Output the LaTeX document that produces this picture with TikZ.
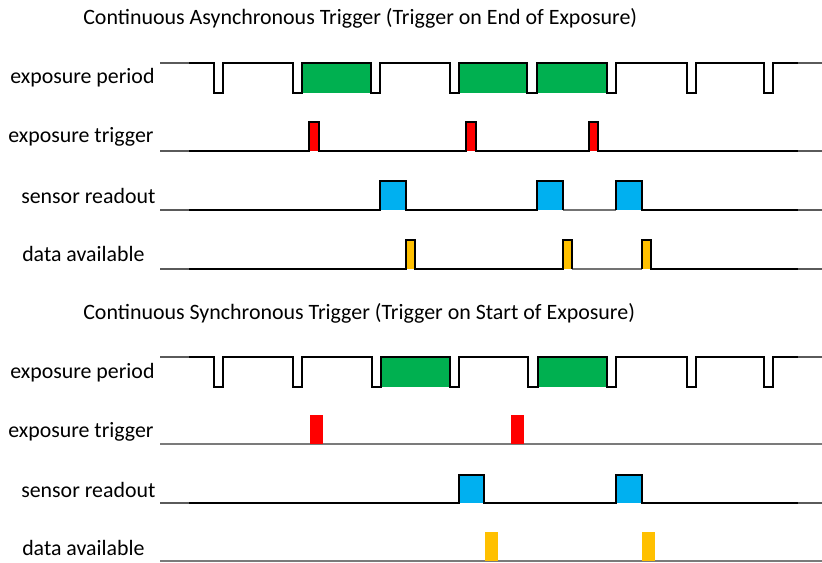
\documentclass[tikz,border=0pt]{standalone}
\usepackage{fontspec}
\setmainfont{Carlito}
\definecolor{expgreen}{RGB}{0,176,80}
\definecolor{trigred}{RGB}{255,0,0}
\definecolor{readblue}{RGB}{0,176,240}
\definecolor{datayellow}{RGB}{255,192,0}
\definecolor{stubgray}{RGB}{90,90,90}
\tikzset{
  wave/.style={line width=1.5pt, black, line join=miter},
  greywave/.style={line width=1.5pt, black!55},
  stub/.style={line width=1.5pt, stubgray},
  thinbase/.style={line width=0.9pt, stubgray!80},
  lbl/.style={anchor=west, inner sep=0pt, font=\fontsize{16.4}{18}\selectfont},
  ttl/.style={anchor=west, inner sep=0pt, font=\fontsize{16.45}{18}\selectfont},
}
\begin{document}
\begin{tikzpicture}[x=0.75pt,y=-0.75pt]
\useasboundingbox (0,0) rectangle (822,562);
% ---------- titles ----------
\node[ttl] (t1) at (83,18) {Continuous Asynchronous Trigger (Trigger on End of Exposure)};
\node[ttl] (t2) at (83,313) {Continuous Synchronous Trigger (Trigger on Start of Exposure)};
% ---------- labels ----------
\node[lbl] (l1) at (10,78) {exposure period};
\node[lbl] (l2) at (8,137) {exposure trigger};
\node[lbl] (l3) at (21,196) {sensor readout};
\node[lbl] (l4) at (22,254) {data available};
\node[lbl] (l5) at (10,373) {exposure period};
\node[lbl] (l6) at (8,432) {exposure trigger};
\node[lbl] (l7) at (21,490) {sensor readout};
\node[lbl] (l8) at (22,548) {data available};
% ================= top section =================
% exposure period
\foreach \a/\b in {302/371,459/527,537/607} \fill[expgreen] (\a,63) rectangle (\b,93);
\draw[stub] (160,63) -- (189,63);
\draw[stub] (798,63) -- (822,63);
\draw[wave] (189,63)
  \foreach \d/\e in {214/223,293/302,371/380,450/459,527/537,607/616,687/696,764/773}
    { -- (\d,63) -- (\d,93) -- (\e,93) -- (\e,63) } -- (798,63);
% exposure trigger
\foreach \a/\b in {309/319,466/476,589/598} \fill[trigred] (\a,122) rectangle (\b,151);
\draw[stub] (160,151) -- (189,151);
\draw[stub] (798,151) -- (822,151);
\draw[wave] (189,151)
  \foreach \a/\b in {309/319,466/476,589/598}
    { -- (\a,151) -- (\a,122) -- (\b,122) -- (\b,151) } -- (798,151);
% sensor readout
\foreach \a/\b in {380/406,537/563,616/642} \fill[readblue] (\a,181) rectangle (\b,210);
\draw[stub] (160,210) -- (189,210);
\draw[stub] (798,210) -- (822,210);
\draw[greywave] (563,210) -- (616,210);
\draw[wave] (189,210)
  \foreach \a/\b in {380/406,537/563}
    { -- (\a,210) -- (\a,181) -- (\b,181) -- (\b,210) };
\draw[wave] (616,210) -- (616,181) -- (642,181) -- (642,210) -- (798,210);
% data available
\foreach \a/\b in {406/415,563/572,642/651} \fill[datayellow] (\a,240) rectangle (\b,269);
\draw[stub] (160,269) -- (189,269);
\draw[stub] (798,269) -- (822,269);
\draw[greywave] (572,269) -- (642,269);
\draw[wave] (189,269)
  \foreach \a/\b in {406/415,563/572}
    { -- (\a,269) -- (\a,240) -- (\b,240) -- (\b,269) };
\draw[wave] (642,269) -- (642,240) -- (651,240) -- (651,269) -- (798,269);
% ================= bottom section =================
% exposure period
\foreach \a/\b in {381/450,538/607} \fill[expgreen] (\a,357) rectangle (\b,387);
\draw[stub] (160,357) -- (189,357);
\draw[stub] (798,357) -- (822,357);
\draw[wave] (189,357)
  \foreach \d/\e in {214/223,293/302,372/381,450/459,528/538,607/616,687/696,764/773}
    { -- (\d,357) -- (\d,387) -- (\e,387) -- (\e,357) } -- (798,357);
% exposure trigger
\draw[thinbase] (160,444) -- (822,444);
\foreach \a/\b in {310/323,511/524} \fill[trigred] (\a,415) rectangle (\b,444);
% sensor readout
\foreach \a/\b in {459/484,616/642} \fill[readblue] (\a,475) rectangle (\b,503);
\draw[stub] (160,503) -- (189,503);
\draw[stub] (798,503) -- (822,503);
\draw[wave] (189,503)
  \foreach \a/\b in {459/484,616/642}
    { -- (\a,503) -- (\a,475) -- (\b,475) -- (\b,503) } -- (798,503);
% data available
\draw[thinbase] (160,561) -- (822,561);
\foreach \a/\b in {485/498,642/655} \fill[datayellow] (\a,532) rectangle (\b,561);
\end{tikzpicture}
\end{document}
